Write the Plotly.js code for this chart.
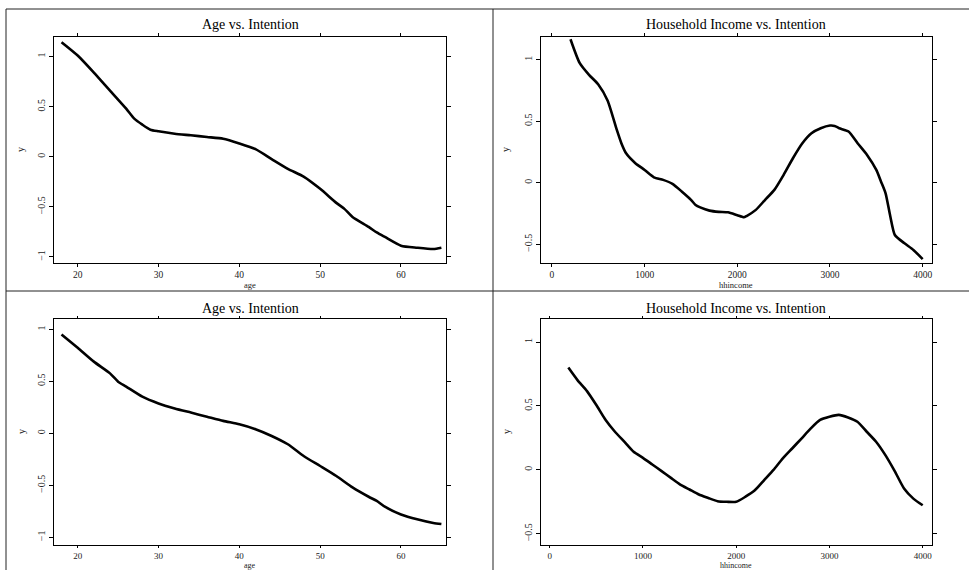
<!DOCTYPE html>
<html>
<head>
<meta charset="utf-8">
<script src="https://cdn.plot.ly/plotly-3.0.1.min.js"></script>
<style>html,body{margin:0;padding:0;background:#fff;}#chart{width:969px;height:570px;}</style>
</head>
<body>
<div id="chart"></div>
<script>
// ---- Data ----
const ageX1 = [18, 20, 22, 24, 26, 27, 28, 29, 30, 32, 34, 36, 38, 40, 42, 44, 46, 48, 50, 52, 53, 54, 56, 57, 58, 60, 62, 64, 65];
const ageY1 = [1.143, 1.01, 0.84, 0.66, 0.48, 0.38, 0.32, 0.27, 0.254, 0.23, 0.214, 0.197, 0.18, 0.133, 0.076, -0.023, -0.12, -0.2, -0.32, -0.46, -0.52, -0.6, -0.70, -0.755, -0.80, -0.887, -0.907, -0.92, -0.907];

const incX1 = [200, 300, 400, 500, 600, 700, 750, 800, 900, 1000, 1100, 1200, 1300, 1400, 1500, 1550, 1600, 1700, 1800, 1900, 2000, 2070, 2100, 2200, 2300, 2400, 2500, 2600, 2700, 2800, 2900, 3000, 3050, 3100, 3200, 3300, 3400, 3500, 3550, 3600, 3650, 3700, 3800, 3900, 4000];
const incY1 = [1.168, 0.973, 0.878, 0.80, 0.67, 0.43, 0.32, 0.24, 0.16, 0.105, 0.045, 0.024, -0.008, -0.07, -0.138, -0.18, -0.2, -0.226, -0.236, -0.24, -0.264, -0.28, -0.27, -0.22, -0.138, -0.057, 0.065, 0.2, 0.32, 0.403, 0.444, 0.466, 0.463, 0.444, 0.417, 0.32, 0.227, 0.105, 0.011, -0.085, -0.27, -0.424, -0.49, -0.546, -0.62];

const ageX2 = [18, 20, 22, 24, 25, 26, 28, 30, 32, 34, 36, 38, 40, 42, 44, 46, 48, 50, 52, 54, 56, 57, 58, 60, 62, 64, 65];
const ageY2 = [0.952, 0.824, 0.69, 0.577, 0.497, 0.45, 0.353, 0.288, 0.24, 0.2, 0.16, 0.12, 0.087, 0.04, -0.025, -0.105, -0.22, -0.314, -0.41, -0.52, -0.61, -0.65, -0.706, -0.78, -0.827, -0.862, -0.872];

const incX2 = [200, 300, 400, 500, 600, 700, 800, 900, 1000, 1100, 1200, 1300, 1400, 1500, 1600, 1700, 1800, 1900, 2000, 2100, 2200, 2300, 2400, 2500, 2600, 2700, 2800, 2900, 3000, 3100, 3200, 3300, 3400, 3500, 3600, 3700, 3800, 3900, 4000];
const incY2 = [0.80, 0.70, 0.616, 0.507, 0.39, 0.298, 0.22, 0.141, 0.094, 0.042, -0.01, -0.063, -0.115, -0.154, -0.193, -0.22, -0.245, -0.25, -0.25, -0.21, -0.16, -0.08, 0.0, 0.09, 0.167, 0.245, 0.324, 0.39, 0.415, 0.43, 0.41, 0.376, 0.298, 0.22, 0.115, -0.01, -0.146, -0.225, -0.277];

const titles = ["Age vs. Intention", "Household Income vs. Intention", "Age vs. Intention", "Household Income vs. Intention"];
const xTitles = ["age", "hhincome", "age", "hhincome"];
const yTitle = "y";

// ---- Layout helpers ----
const W = 969, H = 570;
const px = v => v / W;
const py = v => 1 - v / H;
const FONT = "'Liberation Serif', 'Times New Roman', serif";

const lineStyle = {color: "#000", width: 2.6, shape: "spline", smoothing: 0.6};
const traces = [
  {x: ageX1, y: ageY1, xaxis: "x", yaxis: "y"},
  {x: incX1, y: incY1, xaxis: "x2", yaxis: "y2"},
  {x: ageX2, y: ageY2, xaxis: "x3", yaxis: "y3"},
  {x: incX2, y: incY2, xaxis: "x4", yaxis: "y4"}
].map(t => Object.assign(t, {type: "scatter", mode: "lines", line: lineStyle, hoverinfo: "skip", showlegend: false}));

function xa(domain, range, dtick, anchor, tlen, tsize) {
  return {
    domain: domain, range: range, dtick: dtick, anchor: anchor,
    showline: true, linecolor: "#000", linewidth: 1, mirror: "ticks",
    ticks: "outside", ticklen: tlen, tickcolor: "#000", tickwidth: 1,
    showgrid: false, zeroline: false,
    tickfont: {family: FONT, size: tsize, color: "#222"}
  };
}
function ya(domain, range, anchor) {
  return {
    domain: domain, range: range, dtick: 0.5, anchor: anchor,
    showline: true, linecolor: "#000", linewidth: 1, mirror: "ticks",
    ticks: "outside", ticklen: 4, tickcolor: "#000", tickwidth: 1,
    showgrid: false, zeroline: false, tickangle: -90,
    tickfont: {family: FONT, size: 10, color: "#222"}
  };
}

const dxL = [px(54), px(446)], dxR = [px(541.3), px(932.3)];
const dyT = [py(263), py(36.5)], dyB = [py(545), py(319)];

const annotations = [];
const titlePos = [[250, 24], [736, 24], [250, 308], [736, 308]];
const xTitlePos = [[250, 285], [736, 285], [250, 565], [736, 565]];
const xTitleSize = [8.5, 8.5, 8, 8];
const yTitlePos = [[21, 150], [506, 150], [21, 432], [506, 432]];
for (let i = 0; i < 4; i++) {
  annotations.push({xref: "paper", yref: "paper", x: px(titlePos[i][0]), y: py(titlePos[i][1]), text: titles[i], showarrow: false, xanchor: "center", yanchor: "middle", font: {family: FONT, size: 14, color: "#000"}});
  annotations.push({xref: "paper", yref: "paper", x: px(xTitlePos[i][0]), y: py(xTitlePos[i][1]), text: xTitles[i], showarrow: false, xanchor: "center", yanchor: "middle", borderpad: 0, font: {family: FONT, size: xTitleSize[i], color: "#222"}});
  annotations.push({xref: "paper", yref: "paper", x: px(yTitlePos[i][0]), y: py(yTitlePos[i][1]), text: yTitle, showarrow: false, textangle: -90, xanchor: "center", yanchor: "middle", font: {family: FONT, size: 10, color: "#222"}});
}

const bc = "#222";
const shapes = [
  {type: "line", xref: "paper", yref: "paper", x0: px(6), x1: 1, y0: py(9), y1: py(9), line: {color: bc, width: 1}},
  {type: "line", xref: "paper", yref: "paper", x0: px(6), x1: 1, y0: py(291), y1: py(291), line: {color: bc, width: 1}},
  {type: "line", xref: "paper", yref: "paper", x0: px(6), x1: px(6), y0: py(9), y1: 0, line: {color: bc, width: 1}},
  {type: "line", xref: "paper", yref: "paper", x0: px(493), x1: px(493), y0: py(9), y1: 0, line: {color: bc, width: 1}}
];

const layout = {
  width: W, height: H,
  margin: {l: 0, r: 0, t: 0, b: 0},
  paper_bgcolor: "#fff", plot_bgcolor: "#fff",
  showlegend: false,
  xaxis: xa(dxL, [17.07, 65.57], 10, "y", 3, 9.5),
  yaxis: ya(dyT, [-1.06, 1.2], "x"),
  xaxis2: xa(dxR, [-115, 4104], 1000, "y2", 3, 9.5),
  yaxis2: ya(dyT, [-0.652, 1.19], "x2"),
  xaxis3: xa(dxL, [17.07, 65.57], 10, "y3", 2, 9),
  yaxis3: ya(dyB, [-1.074, 1.1], "x3"),
  xaxis4: xa(dxR, [-90, 4103], 1000, "y4", 2, 9),
  yaxis4: ya(dyB, [-0.588, 1.18], "x4"),
  annotations: annotations,
  shapes: shapes
};

Plotly.newPlot("chart", traces, layout, {displayModeBar: false, staticPlot: true});
</script>
</body>
</html>
